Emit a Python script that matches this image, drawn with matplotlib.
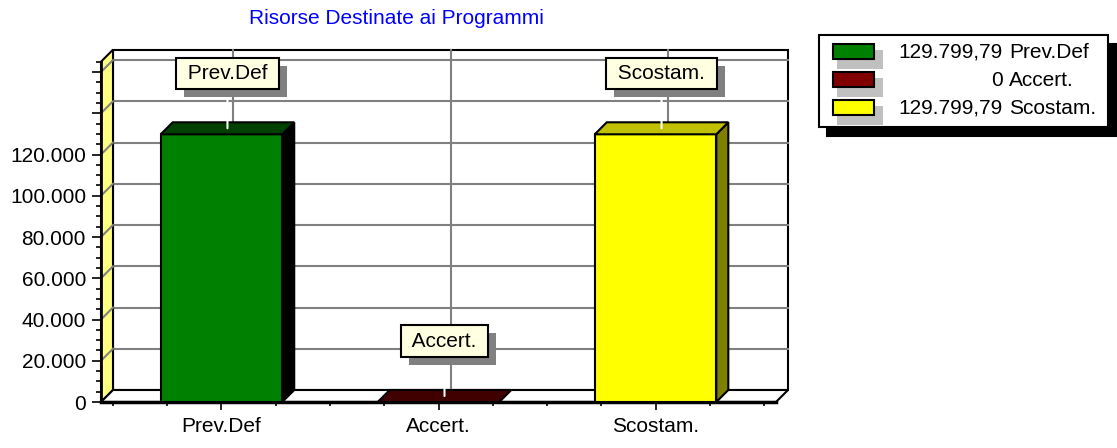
import matplotlib
matplotlib.use('Agg')
import matplotlib.pyplot as plt
from matplotlib.patches import Polygon, Rectangle
from matplotlib.ticker import FixedLocator, FuncFormatter
import matplotlib.patheffects as pe

# ---------------- data ----------------
categories = ['Prev.Def', 'Accert.', 'Scostam.']
values = [129799.79, 0.0, 129799.79]
face_colors = ['#008000', '#800000', '#FFFF00']
top_colors = ['#004000', '#400000', '#C0C000']
side_colors = ['#000000', '#400000', '#808000']
y_major_ticks = [0, 20000, 40000, 60000, 80000, 100000, 120000, 140000, 160000]
y_labeled_ticks = [0, 20000, 40000, 60000, 80000, 100000, 120000]
title = 'Risorse Destinate ai Programmi'

plt.rcParams['font.family'] = ['Liberation Sans', 'DejaVu Sans']
FS = 15

W, H = 1117, 448
fig = plt.figure(figsize=(W / 100, H / 100), dpi=100, facecolor='white')

ax = fig.add_axes([101 / W, (H - 402) / H, 675 / W, 340.3 / H])
ax.patch.set_visible(False)
xlim = (-0.555, 2.555)
ylim = (0, 165000)
ax.set_xlim(*xlim)
ax.set_ylim(*ylim)

# depth offset (12 px) converted to data units through the axes transform
x0p, y0p = ax.transData.transform((0, 0))
dxy = ax.transData.inverted().transform((x0p + 12, y0p + 12))
dx, dy = dxy[0], dxy[1]

grid_c = '#808080'
# back wall
ax.add_patch(Polygon([(xlim[0] + dx, dy), (xlim[1] + dx, dy), (xlim[1] + dx, ylim[1] + dy),
                      (xlim[0] + dx, ylim[1] + dy)], closed=True, fc='white', ec='black',
                     lw=1.5, zorder=0.5, clip_on=False))
# left wall
ax.add_patch(Polygon([(xlim[0], 0), (xlim[0], ylim[1]), (xlim[0] + dx, ylim[1] + dy),
                      (xlim[0] + dx, dy)], closed=True, fc='#FFFF80', ec='black',
                     lw=1.5, zorder=0.8, clip_on=False))
# floor
ax.add_patch(Polygon([(xlim[0], 0), (xlim[1], 0), (xlim[1] + dx, dy), (xlim[0] + dx, dy)],
                     closed=True, fc='white', ec='black', lw=1.5, zorder=0.9, clip_on=False))

# gridlines on the back wall and left wall
for yv in y_major_ticks[1:]:
    ax.plot([xlim[0] + dx, xlim[1] + dx], [yv + dy, yv + dy], color=grid_c, lw=1.5,
            zorder=0.7, clip_on=False)
    ax.plot([xlim[0], xlim[0] + dx], [yv, yv + dy], color=grid_c, lw=1.5,
            zorder=1.0, clip_on=False)
for i in range(len(categories)):
    ax.plot([i + dx, i + dx], [dy, ylim[1] + dy], color=grid_c, lw=1.5, zorder=0.7,
            clip_on=False)

# bars
xs = list(range(len(categories)))
bw = 0.56
ax.bar(xs, values, width=bw, color=face_colors, edgecolor='black', linewidth=1.5, zorder=4)
for x, v, tc, sc in zip(xs, values, top_colors, side_colors):
    l, r = x - bw / 2, x + bw / 2
    ax.add_patch(Polygon([(l, v), (r, v), (r + dx, v + dy), (l + dx, v + dy)], closed=True,
                         fc=tc, ec='black', lw=1.5, zorder=4.2, clip_on=False))
    if v > 0:
        ax.add_patch(Polygon([(r, 0), (r + dx, dy), (r + dx, v + dy), (r, v)], closed=True,
                             fc=sc, ec='black', lw=1.5, zorder=4.1, clip_on=False))

# marks (labels above bars) with grey drop shadow
shadow_pt = 8 * 72 / 100
for x, v, lab in zip(xs, values, categories):
    xy = (x + dx / 2, v + dy / 2)
    ann = ax.annotate(' ' + lab + ' ', xy=xy, xytext=(0, 55), textcoords='offset pixels',
                      ha='center', va='center', fontsize=FS, color='black',
                      bbox=dict(boxstyle='square,pad=0.3', fc='#FFFFE1', ec='black', lw=1.5),
                      arrowprops=dict(arrowstyle='-', color='white', lw=1.5,
                                      shrinkA=0, shrinkB=0),
                      zorder=6, annotation_clip=False)
    ann.get_bbox_patch().set_path_effects([
        pe.SimplePatchShadow(offset=(shadow_pt, -shadow_pt), shadow_rgbFace='#808080',
                             alpha=1.0),
        pe.Normal()])


def fmt_it(v):
    if float(v).is_integer():
        s = f"{int(v):,}"
    else:
        s = f"{v:,.2f}"
    return s.replace(',', 'X').replace('.', ',').replace('X', '.')


# axes styling
for s in ['top', 'right']:
    ax.spines[s].set_visible(False)
ax.spines['left'].set_linewidth(2)
ax.spines['bottom'].set_linewidth(2.5)
ax.spines['left'].set_zorder(3)
ax.spines['bottom'].set_zorder(3)

ax.yaxis.set_major_locator(FixedLocator(y_major_ticks))
ax.yaxis.set_major_formatter(FuncFormatter(
    lambda v, p: fmt_it(v) if v in y_labeled_ticks else ''))
ax.yaxis.set_minor_locator(FixedLocator([m * 5000 for m in range(0, 34) if m % 4 != 0]))
ax.tick_params(axis='y', which='major', length=6.5, width=1.2, pad=4.3, labelsize=FS)
ax.tick_params(axis='y', which='minor', length=3.6, width=1.2)

ax.xaxis.set_major_locator(FixedLocator(xs))
ax.set_xticklabels(categories)
ax.xaxis.set_minor_locator(FixedLocator([q * 0.25 - 0.5 for q in range(13) if q % 4 != 2]))
ax.tick_params(axis='x', which='major', length=5.8, width=1.2, pad=5, labelsize=FS)
ax.tick_params(axis='x', which='minor', length=2.9, width=1.2)

# ---------------- overlay (title & legend) ----------------
lax = fig.add_axes([0, 0, 1, 1])
lax.set_xlim(0, W)
lax.set_ylim(H, 0)
lax.axis('off')
lax.patch.set_visible(False)

lax.text(396, 19, title, ha='center', va='center', fontsize=FS, color='#0000FF')

# legend box with black shadow
lax.add_patch(Rectangle((827, 44), 289, 92, fc='black', ec='black', lw=1.5))
lax.add_patch(Rectangle((819, 35), 289, 92, fc='white', ec='black', lw=1.5))
row_y = [52, 80, 108]
for ry, v, lab, c in zip(row_y, values, categories, face_colors):
    lax.add_patch(Rectangle((837, ry - 2), 46, 19, fc='#C0C0C0', ec='none'))
    lax.add_patch(Rectangle((832.5, ry - 7.5), 41.5, 15, fc=c, ec='black', lw=1.5))
    lax.text(1003, ry, fmt_it(v), ha='right', va='center', fontsize=FS, color='black')
    lax.text(1009, ry, lab, ha='left', va='center', fontsize=FS, color='black')

fig.savefig('out.png', dpi=100, facecolor='white')
